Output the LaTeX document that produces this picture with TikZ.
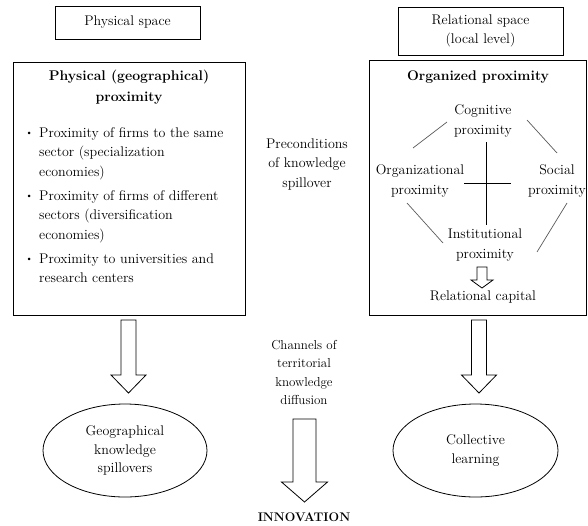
\documentclass[tikz,border=0pt]{standalone}
\usetikzlibrary{positioning,shapes.geometric}

\tikzset{
    txt/.style={font=\fontsize{14}{19.5}\selectfont, align=center, inner sep=0pt},
    smalltxt/.style={font=\fontsize{13}{18.5}\selectfont, align=center, inner sep=0pt},
    framebox/.style={draw, line width=0.8pt},
    item/.style={font=\fontsize{14}{19.5}\selectfont, inner sep=0pt, anchor=base west},
    hollowarrow/.style={draw, line width=0.8pt, fill=white, line join=miter},
}

\begin{document}
\begin{tikzpicture}[x=1pt, y=-1pt]
    \useasboundingbox (0,0) rectangle (588,525); % Fixes the page size

    % Top labels
    \node[txt, framebox, minimum width=145pt, minimum height=33pt] (physspace) at (127.5,22.5) {Physical space};
    \node[txt, framebox, minimum width=165pt, minimum height=48pt] (relspace) at (480.5,31) {Relational space\\(local level)};

    % The two big boxes
    \node[framebox, minimum width=232pt, minimum height=253pt] (physbox) at (129,188.5) {};
    \node[framebox, minimum width=217pt, minimum height=255pt] (relbox) at (477.5,187.5) {};

    % Left box contents
    \node[txt, font=\fontsize{14}{21}\selectfont\bfseries] (phystitle) at (129,87) {Physical (geographical)\\proximity};
    \node[item] (item1) at (39,137) {\begin{tabular}[t]{@{}l@{}}Proximity of firms to the same\\sector (specialization\\economies)\end{tabular}};
    \node[item] (item2) at (39,200) {\begin{tabular}[t]{@{}l@{}}Proximity of firms of different\\sectors (diversification\\economies)\end{tabular}};
    \node[item] (item3) at (39,263) {\begin{tabular}[t]{@{}l@{}}Proximity to universities and\\research centers\end{tabular}};
    \foreach \i in {1,2,3}{                                        % One dot for each item
            \node[inner sep=0pt, font=\small, left=6pt of item\i.base west, anchor=base east] (dot\i) {\raisebox{2pt}{\textbullet}};
        }

    % Right box contents
    \node[txt, font=\fontsize{14}{19.5}\selectfont\bfseries] (orgtitle) at (478,77) {Organized proximity};
    \node[txt] (cog) at (483,121) {Cognitive\\proximity};
    \node[txt] (orgprox) at (420,181) {Organizational\\proximity};
    \node[txt] (social) at (557,181) {Social\\proximity};
    \node[txt] (inst) at (485,245) {Institutional\\proximity};
    \node[txt] (relcap) at (483,297) {Relational capital};

    % Cross and diamond sides
    \coordinate (crosstop) at (486,142);
    \coordinate (crossbot) at (486,225);
    \coordinate (crossleft) at (464,183);
    \coordinate (crossright) at (511,183);
    \draw[line width=0.8pt] (crosstop) -- (crossbot);
    \draw[line width=0.8pt] (crossleft) -- (crossright);
    \coordinate (tla) at (447,122); \coordinate (tlb) at (413,148);
    \coordinate (tra) at (527,120); \coordinate (trb) at (557,153);
    \coordinate (bla) at (407,203); \coordinate (blb) at (443,243);
    \coordinate (bra) at (537,252); \coordinate (brb) at (567,203);
    \foreach \a/\b in {tla/tlb, tra/trb, bla/blb, bra/brb}{
            \draw[line width=0.7pt, gray!70!black] (\a) -- (\b);
        }

    % Middle texts
    \node[txt] (precond) at (307,164) {Preconditions\\of knowledge\\spillover};
    \node[smalltxt] (channels) at (304,372.5) {Channels of\\territorial\\knowledge\\diffusion};
    \node[txt, font=\fontsize{12.5}{15}\selectfont\bfseries] (innov) at (304,517) {INNOVATION};

    % Ellipses
    \node[ellipse, framebox, txt, font=\fontsize{14}{18.5}\selectfont, minimum width=164pt, minimum height=93pt] (geospill) at (125,450.5) {Geographical\\knowledge\\spillovers};
    \node[ellipse, framebox, txt, minimum width=165pt, minimum height=93pt] (collearn) at (475.5,450.5) {Collective\\learning};

    % Hollow block arrows: centre x / shaft top / head start / tip / half shaft / half head
    \foreach \ax/\ay/\an/\at/\as/\ah in {128.5/320/375/393/7.5/17.5, 479/320/375/393/7.5/17.5, 304.5/419/482/502/11.5/23, 482/267/280/288/5/11}{
            \draw[hollowarrow] (\ax-\as,\ay) -- (\ax-\as,\an) -- (\ax-\ah,\an) -- (\ax,\at) -- (\ax+\ah,\an) -- (\ax+\as,\an) -- (\ax+\as,\ay) -- cycle;
        }
\end{tikzpicture}
\end{document}
